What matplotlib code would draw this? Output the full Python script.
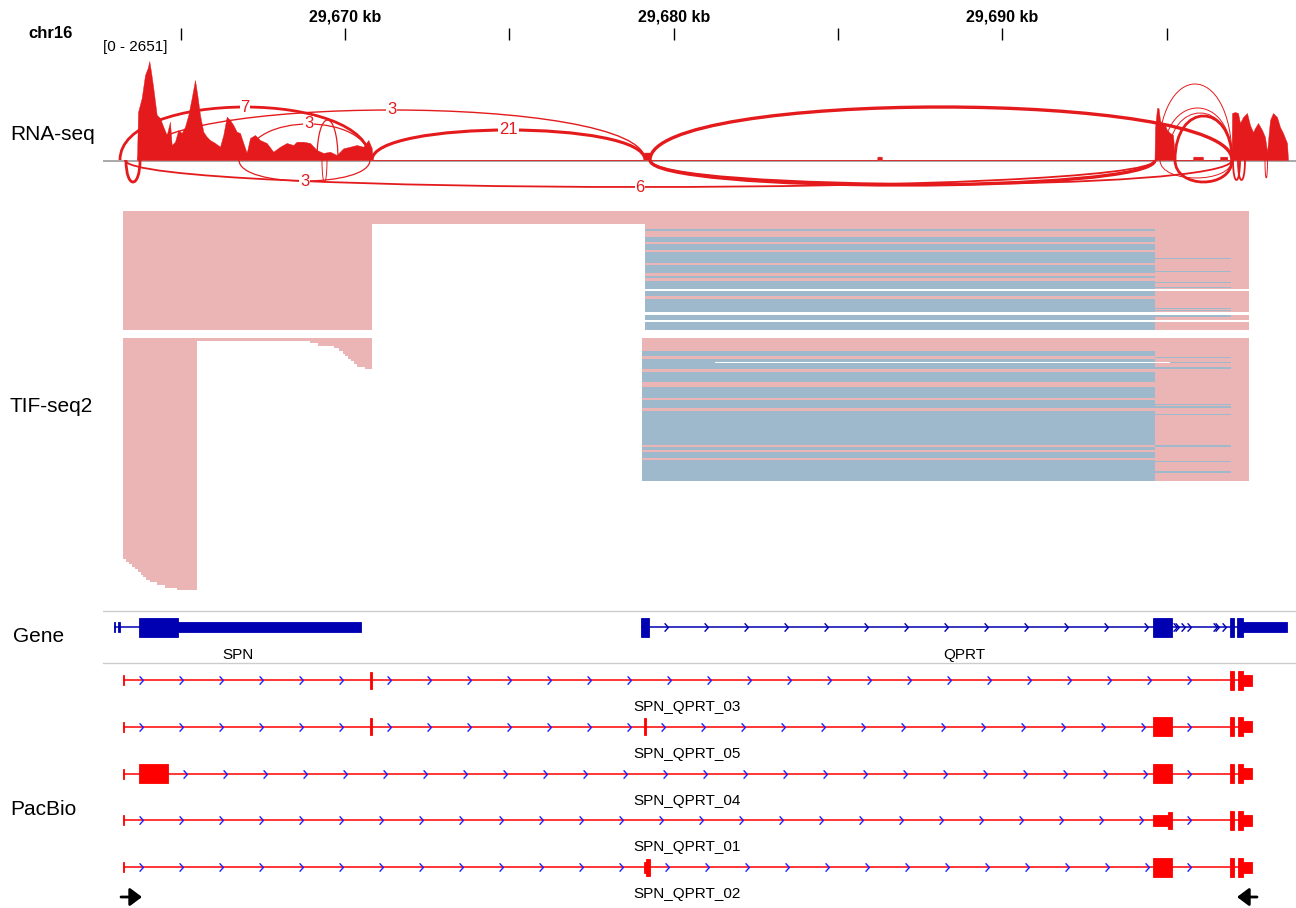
import matplotlib
matplotlib.use("Agg")
import matplotlib.pyplot as plt
from matplotlib.path import Path
from matplotlib.patches import PathPatch, Rectangle
import numpy as np

plt.rcParams['font.family'] = ['Liberation Sans', 'DejaVu Sans']

# window shown on chr16 (kb)
view_start = 29662.637
view_end = 29698.935
ruler_ticks = [29665, 29670, 29675, 29680, 29685, 29690, 29695]
ruler_labeled = [29670, 29680, 29690]
data_range = "[0 - 2651]"

# RNA-seq coverage (kb, depth)
cov_kb = [29663.671, 29663.702, 29663.814, 29663.915, 29663.997, 29664.046, 29664.097,
          29664.167, 29664.271, 29664.371, 29664.471, 29664.575, 29664.675, 29664.727,
          29664.828, 29664.928, 29665.031, 29665.132, 29665.232, 29665.336, 29665.436,
          29665.506, 29665.588, 29665.689, 29665.792, 29665.892, 29666.045, 29666.197,
          29666.297, 29666.401, 29666.501, 29666.601, 29666.705, 29666.805, 29666.906,
          29667.009, 29667.110, 29667.262, 29667.414, 29667.618, 29667.818, 29668.022,
          29668.226, 29668.427, 29668.530, 29668.731, 29668.935, 29669.139, 29669.340,
          29669.544, 29669.747, 29669.948, 29670.152, 29670.356, 29670.557, 29670.709,
          29670.812, 29670.837,
          29679.090, 29679.100, 29679.270, 29679.280,
          29686.190, 29686.200, 29686.330, 29686.340,
          29694.630, 29694.645, 29694.706, 29694.752, 29694.797, 29694.858, 29694.949,
          29695.010, 29695.101, 29695.193, 29695.254,
          29695.800, 29695.810, 29696.100, 29696.110,
          29696.620, 29696.630, 29696.840, 29696.850,
          29696.973, 29696.988, 29697.079, 29697.170, 29697.231, 29697.323, 29697.444,
          29697.535, 29697.627, 29697.688, 29697.779, 29697.901, 29697.992, 29698.053,
          29698.144, 29698.235, 29698.357, 29698.448, 29698.540, 29698.661, 29698.692]
cov_depth = [0, 1286, 1662, 2278, 2466, 2651, 2366,
             1930, 1206, 1126, 892, 670, 1026, 402,
             490, 804, 724, 892, 1206, 1662, 2144,
             1742, 1206, 758, 624, 536, 456, 356,
             670, 1160, 1072, 938, 758, 724, 456,
             188, 590, 670, 536, 456, 222, 356,
             456, 402, 490, 490, 456, 268, 188,
             222, 134, 314, 356, 402, 356, 536,
             322, 0,
             0, 200, 200, 0,
             0, 90, 90, 0,
             0, 858, 1394, 1394, 1072, 938, 938,
             804, 724, 670, 0,
             0, 90, 90, 0,
             0, 90, 90, 0,
             0, 1260, 1286, 1260, 992, 1152, 1260,
             938, 750, 858, 992, 804, 616, 214,
             1072, 1260, 1152, 884, 724, 456, 0]

# splice junctions (sashimi arcs); negative peak = drawn below the axis
junc_start = [29663.154, 29663.702, 29667.018, 29669.148, 29670.822, 29679.280,
              29694.736, 29694.888, 29695.041, 29695.254,
              29663.337, 29666.775, 29669.300, 29663.306, 29679.280, 29679.280,
              29694.797, 29695.254, 29697.018, 29697.170, 29697.992]
junc_end = [29670.761, 29679.128, 29670.761, 29669.787, 29679.128, 29696.988,
            29696.988, 29696.988, 29696.988, 29696.988,
            29663.763, 29670.761, 29669.452, 29694.645, 29694.645, 29696.988,
            29696.988, 29696.988, 29697.231, 29697.383, 29698.068]
junc_peak = [1420, 1340, 965, 1072, 804, 1420,
             2037, 1394, 1260, 1180,
             -590, -563, -590, -724, -670, -643,
             -482, -590, -536, -536, -482]
junc_count = ["7", "3", "3", None, "21", None,
              None, None, None, None,
              None, "3", None, "6", None, None,
              None, None, None, None, None]
junc_lw = [2.0, 1.0, 0.9, 0.9, 2.2, 2.4,
           0.7, 0.7, 0.7, 2.0,
           2.0, 0.9, 0.7, 1.3, 2.4, 1.3,
           0.7, 2.0, 1.3, 1.3, 0.7]

# TIF-seq2 reads (packed rows)
spn_read = (29663.245, 29670.822)
spn_short_read = (29663.245, 29665.497)
qprt_read_upper = (29679.128, 29697.505)
qprt_read_lower = (29679.040, 29697.505)
blue_end = 29694.645
ext_end = 29696.960
full_rows = list(range(0, 5))
upper_rows = list(range(5, 46))
upper_blue = [7, 10, 11, 13, 14, 16, 17, 18, 19, 21, 22, 23, 25, 27, 28, 29, 31, 32,
              34, 35, 36, 37, 38, 40, 41, 43, 44, 45]
upper_gap = [30, 39, 42]
upper_ext = [18, 23, 27, 29, 37, 38, 40]
lower_rows = list(range(49, 104))
lower_blue = [54, 55, 57, 58, 59, 60, 62, 63, 64, 65, 68, 69, 70, 71, 73, 74, 75,
              77, 78, 79, 80, 81, 82, 83, 84, 85, 86, 87, 88, 89, 91, 93, 94,
              96, 97, 98, 99, 100, 101, 102, 103]
lower_ext = [56, 58, 60, 74, 75, 78, 90, 96, 100]
lower_left_rows = list(range(49, 146))
tail_rows = list(range(134, 146))
tail_starts = [29663.337, 29663.428, 29663.519, 29663.611, 29663.702, 29663.778,
               29663.854, 29663.945, 29664.067, 29664.280, 29664.523, 29664.888]
spn3_rows = list(range(49, 61))
spn3_starts = [29665.497, 29668.935, 29669.180, 29669.665, 29669.817, 29669.924,
               29670.015, 29670.091, 29670.183, 29670.289, 29670.380, 29670.609]
split_row = 58
split_gap = (29681.258, 29695.101)

# RefSeq genes
gene_names = ["SPN", "QPRT"]
gene_span = [(29662.972, 29670.487), (29679.006, 29698.661)]
gene_exons = [
    [(29662.972, 29663.017, 'utr'), (29663.108, 29663.154, 'utr'),
     (29663.732, 29664.934, 'cds'), (29664.934, 29670.487, 'utr')],
    [(29679.006, 29679.250, 'cds'), (29694.584, 29695.162, 'cds'),
     (29696.927, 29697.049, 'cds'), (29697.140, 29697.322, 'cds'),
     (29697.322, 29698.661, 'utr')],
]
qprt_extra_chevrons = [29695.254, 29695.314, 29695.497, 29696.471, 29696.531, 29696.744]

# PacBio isoforms
pac_names = ["SPN_QPRT_03", "SPN_QPRT_05", "SPN_QPRT_04", "SPN_QPRT_01", "SPN_QPRT_02"]
pac_span = (29663.245, 29697.596)
pac_common_end = [(29696.927, 29697.049, 'tall'), (29697.162, 29697.332, 'tall'),
                  (29697.332, 29697.596, 'mid')]
pac_exons = [
    [(29663.245, 29663.275, 'tick'), (29670.761, 29670.822, 'line')],
    [(29663.245, 29663.275, 'tick'), (29670.761, 29670.822, 'line'),
     (29679.103, 29679.173, 'line'), (29694.593, 29695.153, 'tall')],
    [(29663.245, 29663.275, 'tick'), (29663.732, 29664.615, 'tall'),
     (29694.593, 29695.153, 'tall')],
    [(29663.245, 29663.275, 'tick'), (29694.593, 29695.049, 'mid'),
     (29695.049, 29695.153, 'line')],
    [(29663.245, 29663.275, 'tick'), (29679.103, 29679.173, 'mid'),
     (29679.173, 29679.280, 'line'), (29694.593, 29695.153, 'tall')],
]
arrow_right = (29663.185, 29663.824)
arrow_left = (29697.749, 29697.140)

# colours / sizes
RED = '#E41A1C'
PINK = '#EBB4B5'
STEEL = '#9DB9CB'
GENE_BLUE = '#0000B2'
PAC_RED = '#FF0000'
CHEV_BLUE = '#2020FF'
HALF = {'cds': 9.5, 'tall': 9.5, 'utr': 5.0, 'mid': 5.5, 'line': 8.5, 'tick': 5.0}
KB_PER_PX = 5.0 / 164.33
CHEV_OFF = 17 * KB_PER_PX
CHEV_STEP = 40 * KB_PER_PX
CHEV_MARGIN = 4 * KB_PER_PX

W, H = 1296, 908
LEFT = 103
fig = plt.figure(figsize=(W / 100, H / 100), dpi=100)


def track_axes(top, bottom):
    ax = fig.add_axes([LEFT / W, 1 - bottom / H, (W - LEFT) / W, (bottom - top) / H])
    ax.set_xlim(view_start, view_end)
    ax.axis('off')
    return ax


def label(x, y, s, **kw):
    fig.text(x / W, 1 - y / H, s, **kw)


chev = Path([(-0.45, 1), (0.45, 0), (-0.45, -1)], [Path.MOVETO, Path.LINETO, Path.LINETO])


def draw_transcript(ax, yc, span, exons, line_c, exon_c, chev_c, extra=()):
    ax.plot(span, [yc, yc], color=line_c, lw=1.1, solid_capstyle='butt', zorder=1)
    for s, e, kind in exons:
        hh = HALF[kind]
        ax.add_patch(Rectangle((s, yc - hh), e - s, 2 * hh, facecolor=exon_c,
                               edgecolor=exon_c, lw=0.6, zorder=3))
    ex = sorted(exons)
    xs = []
    for (s0, e0, _), (s1, e1, _) in zip(ex[:-1], ex[1:]):
        xs += list(np.arange(e0 + CHEV_OFF, s1 - CHEV_MARGIN, CHEV_STEP))
    xs += list(extra)
    ax.plot(xs, [yc] * len(xs), linestyle='none', marker=chev, markersize=6,
            mfc='none', mec=chev_c, mew=1.0, zorder=2)


# ---- ruler ----
ax_r = track_axes(0, 45)
ax_r.set_ylim(45, 0)
ax_r.vlines(ruler_ticks, 28, 40, color='black', lw=1)
for t in ruler_labeled:
    ax_r.text(t, 17, f"{t:,} kb", ha='center', va='center', fontsize=11.5, fontweight='bold')
label(28, 33, "chr16", fontsize=12, fontweight='bold', va='center')

# ---- RNA-seq sashimi ----
ax_s = track_axes(50, 200)
ax_s.set_ylim(-1072, 2948)
ax_s.axhline(-20, color='#9A9A9A', lw=1.2, zorder=1)
ax_s.fill_between(cov_kb, 0, cov_depth, color=RED, lw=0.3, zorder=2)
for s, e, pk, cnt, lw in zip(junc_start, junc_end, junc_peak, junc_count, junc_lw):
    c = pk / 0.75
    arc = Path([(s, 0), (s, c), (e, c), (e, 0)],
               [Path.MOVETO, Path.CURVE4, Path.CURVE4, Path.CURVE4])
    ax_s.add_patch(PathPatch(arc, fill=False, edgecolor=RED, lw=lw, zorder=3))
    if cnt:
        ax_s.text((s + e) / 2, pk, cnt, color=RED, fontsize=12, ha='center', va='center',
                  zorder=4, bbox=dict(boxstyle='square,pad=0.05', fc='white', ec='none'))
label(LEFT, 47, data_range, fontsize=11, va='center')
label(10, 140, "RNA-seq", fontsize=15, va='baseline')

# ---- TIF-seq2 reads ----
ax_t = track_axes(205, 595)
ax_t.set_ylim(-2.692 + 150, -2.692)
pink_bars, blue_bars, thin_bars = [], [], []
for r in full_rows:
    pink_bars.append((r, spn_read[0], qprt_read_upper[1]))
for r in upper_rows:
    pink_bars.append((r, *spn_read))
    if r in upper_gap:
        continue
    pink_bars.append((r, *qprt_read_upper))
    if r in upper_blue:
        blue_bars.append((r, qprt_read_upper[0], blue_end))
    if r in upper_ext:
        thin_bars.append((r, blue_end, ext_end))
for r in lower_rows:
    pink_bars.append((r, *qprt_read_lower))
    if r in lower_blue:
        blue_bars.append((r, qprt_read_lower[0], blue_end))
    if r in lower_ext:
        thin_bars.append((r, blue_end, ext_end))
for r in lower_left_rows:
    start = tail_starts[tail_rows.index(r)] if r in tail_rows else spn_short_read[0]
    pink_bars.append((r, start, spn_short_read[1]))
for r, s in zip(spn3_rows, spn3_starts):
    pink_bars.append((r, s, spn_read[1]))


def draw_bars(bars, color, h, aa=False):
    ax_t.barh([b[0] for b in bars], [b[2] - b[1] for b in bars],
              left=[b[1] for b in bars], height=h, color=color, lw=0, antialiased=aa)


draw_bars(pink_bars, PINK, 1.0)
draw_bars(blue_bars, STEEL, 1.0)
draw_bars(thin_bars, STEEL, 0.4, aa=True)
draw_bars([(split_row, *split_gap)], 'white', 0.35, aa=True)
label(10, 412, "TIF-seq2", fontsize=15, va='baseline')

# ---- genes ----
ax_g = track_axes(605, 665)
ax_g.set_ylim(38, -22)
ax_g.axhline(-16, color='#CCCCCC', lw=1)
ax_g.axhline(36, color='#CCCCCC', lw=1)
for i, (name, span, exons) in enumerate(zip(gene_names, gene_span, gene_exons)):
    extra = qprt_extra_chevrons if name == "QPRT" else ()
    draw_transcript(ax_g, 0, span, exons, GENE_BLUE, GENE_BLUE, GENE_BLUE, extra)
    ax_g.text(sum(span) / 2, 28, name, ha='center', va='center', fontsize=11)
label(13, 642, "Gene", fontsize=15, va='baseline')

# ---- PacBio ----
ax_p = track_axes(665, 908)
ax_p.set_ylim(243, 0)
for i, (name, exons) in enumerate(zip(pac_names, pac_exons)):
    yc = 15 + i * 46.75
    draw_transcript(ax_p, yc, pac_span, exons + pac_common_end, PAC_RED, PAC_RED, CHEV_BLUE)
    ax_p.text(sum(pac_span) / 2, yc + 27, name, ha='center', va='center', fontsize=11)
for a, b in (arrow_right, arrow_left):
    ax_p.annotate('', xy=(b, 232), xytext=(a, 232),
                  arrowprops=dict(arrowstyle='-|>,head_length=0.6,head_width=0.45',
                                  color='black', lw=2, mutation_scale=12,
                                  shrinkA=0, shrinkB=0))
label(10, 815, "PacBio", fontsize=15, va='baseline')

fig.savefig('out.png', dpi=100)
